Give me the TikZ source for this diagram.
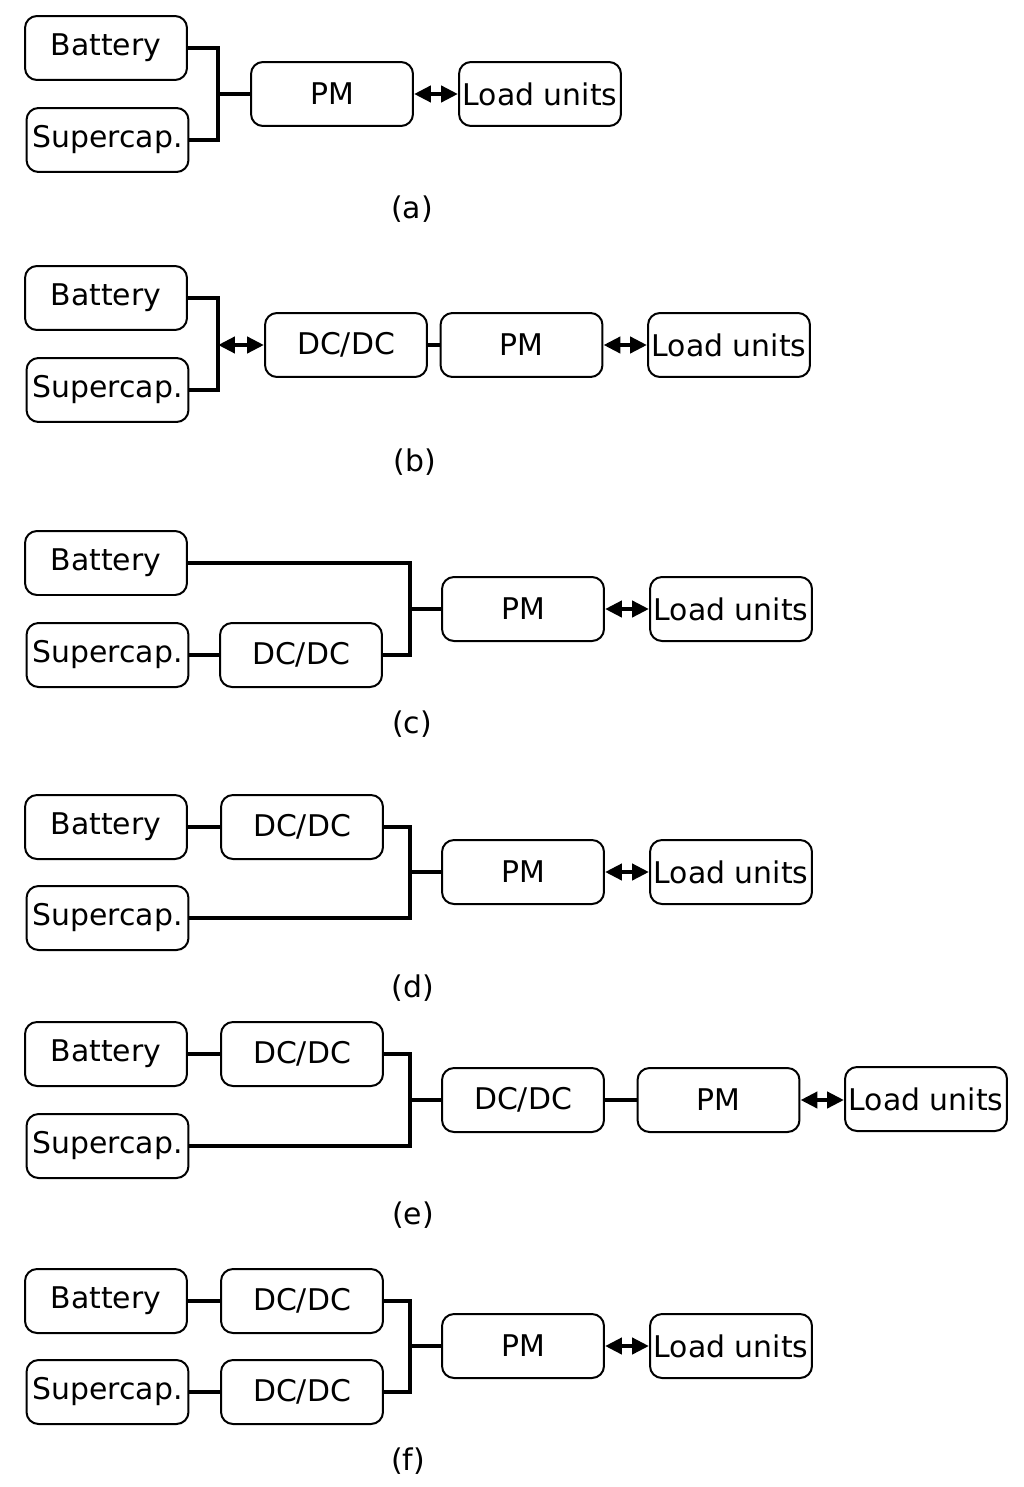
\documentclass[tikz,border=0pt]{standalone}
\usepackage{fontspec}
\setmainfont{DejaVu Sans}
\usetikzlibrary{arrows.meta}

\begin{document}
\begin{tikzpicture}[x=0.02cm,y=-0.02cm,
        blk/.style={draw, line width=0.04cm, rounded corners=0.24cm,
            minimum width=3.24cm, minimum height=1.28cm, inner sep=1pt,
            font=\fontsize{17}{20}\selectfont},
        wire/.style={line width=0.09cm},
        both/.style={wire, {Triangle[length=0.34cm,width=0.32cm]}-{Triangle[length=0.34cm,width=0.32cm]}},
        lbl/.style={font=\fontsize{17}{20}\selectfont}]
    \useasboundingbox (0,0) rectangle (1024,1487);

    % (a)
    \node[blk] (BatA) at (106,48) {Battery};
    \node[blk] (SupA) at (107.5,140) {Supercap.};
    \node[blk] (PMA) at (332,94) {PM};
    \node[blk] (LoadA) at (540,94) {Load units};
    \coordinate (JA) at (218,94);
    \draw[wire] (BatA.east) -| (JA);
    \draw[wire] (SupA.east) -| (JA);
    \draw[wire] (JA) -- (PMA.west);
    \draw[both] (PMA) -- (LoadA);
    \node[lbl] (capA) at (412,209) {(a)};

    % (b)
    \node[blk] (BatB) at (106,298) {Battery};
    \node[blk] (SupB) at (107.5,390) {Supercap.};
    \node[blk] (DCB) at (346,345) {DC/DC};
    \node[blk] (PMB) at (521.5,345) {PM};
    \node[blk] (LoadB) at (729,345) {Load units};
    \coordinate (JB) at (218,345);
    \draw[wire] (BatB.east) -| (JB);
    \draw[wire] (SupB.east) -| (JB);
    \draw[both] (JB) -- (DCB.west);
    \draw[wire] (DCB) -- (PMB);
    \draw[both] (PMB) -- (LoadB);
    \node[lbl] (capB) at (415,462) {(b)};

    % (c)
    \node[blk] (BatC) at (106,563) {Battery};
    \node[blk] (SupC) at (107.5,655) {Supercap.};
    \node[blk] (DCC) at (301,655) {DC/DC};
    \node[blk] (PMC) at (523,609) {PM};
    \node[blk] (LoadC) at (731,609) {Load units};
    \coordinate (JC) at (410,609);
    \draw[wire] (BatC.east) -| (JC);
    \draw[wire] (SupC) -- (DCC);
    \draw[wire] (DCC.east) -| (JC);
    \draw[wire] (JC) -- (PMC.west);
    \draw[both] (PMC) -- (LoadC);
    \node[lbl] (capC) at (412,724) {(c)};

    % (d)
    \node[blk] (BatD) at (106,827) {Battery};
    \node[blk] (DCD) at (302,827) {DC/DC};
    \node[blk] (SupD) at (107.5,918) {Supercap.};
    \node[blk] (PMD) at (523,872) {PM};
    \node[blk] (LoadD) at (731,872) {Load units};
    \coordinate (JD) at (410,872);
    \draw[wire] (BatD) -- (DCD);
    \draw[wire] (DCD.east) -| (JD);
    \draw[wire] (SupD.east) -| (JD);
    \draw[wire] (JD) -- (PMD.west);
    \draw[both] (PMD) -- (LoadD);
    \node[lbl] (capD) at (413,988) {(d)};

    % (e)
    \node[blk] (BatE) at (106,1054) {Battery};
    \node[blk] (DCE) at (302,1054) {DC/DC};
    \node[blk] (SupE) at (107.5,1146) {Supercap.};
    \node[blk] (DCEE) at (523,1100) {DC/DC};
    \node[blk] (PME) at (718.5,1100) {PM};
    \node[blk] (LoadE) at (926,1099) {Load units};
    \coordinate (JE) at (410,1100);
    \draw[wire] (BatE) -- (DCE);
    \draw[wire] (DCE.east) -| (JE);
    \draw[wire] (SupE.east) -| (JE);
    \draw[wire] (JE) -- (DCEE.west);
    \draw[wire] (DCEE) -- (PME);
    \draw[both] (PME.east) -- (PME.east -| LoadE.west);
    \node[lbl] (capE) at (413,1215) {(e)};

    % (f)
    \node[blk] (BatF) at (106,1301) {Battery};
    \node[blk] (DCF) at (302,1301) {DC/DC};
    \node[blk] (SupF) at (107.5,1392) {Supercap.};
    \node[blk] (DCFF) at (302,1392) {DC/DC};
    \node[blk] (PMF) at (523,1346) {PM};
    \node[blk] (LoadF) at (731,1346) {Load units};
    \coordinate (JF) at (410,1346);
    \draw[wire] (BatF) -- (DCF);
    \draw[wire] (SupF) -- (DCFF);
    \draw[wire] (DCF.east) -| (JF);
    \draw[wire] (DCFF.east) -| (JF);
    \draw[wire] (JF) -- (PMF.west);
    \draw[both] (PMF) -- (LoadF);
    \node[lbl] (capF) at (408,1461) {(f)};
\end{tikzpicture}
\end{document}
